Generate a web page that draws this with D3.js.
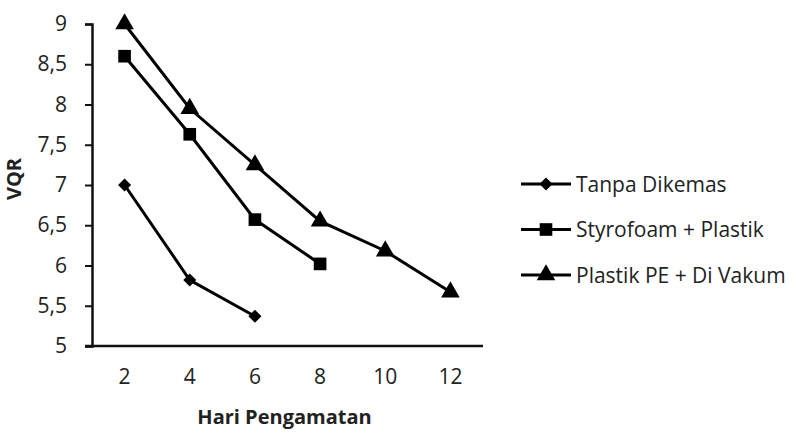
<!DOCTYPE html>
<html>
<head>
<meta charset="utf-8">
<script src="https://cdn.jsdelivr.net/npm/d3@7"></script>
<style>
  body { margin: 0; background: #fff; }
  text { font-family: "Open Sans", sans-serif; fill: #222; }
</style>
</head>
<body>
<svg id="chart"></svg>
<script>
// Dades
var days = ["2", "4", "6", "8", "10", "12"];
var yTicks = [5, 5.5, 6, 6.5, 7, 7.5, 8, 8.5, 9];
var tanpaDikemas = [7.0, 5.82, 5.37];
var styrofoamPlastik = [8.6, 7.63, 6.57, 6.02];
var plastikPeVakum = [9.0, 7.95, 7.25, 6.55, 6.18, 5.67];
var seriesNames = ["Tanpa Dikemas", "Styrofoam + Plastik", "Plastik PE + Di Vakum"];
// el rombe és un quadrat girat 45 graus
var symbols = [d3.symbolSquare, d3.symbolSquare, d3.symbolTriangle];
var symbolSizes = [85, 160, 150];
var symbolRotate = [45, 0, 0];

var width = 796, height = 438;
var margin = { left: 92, right: 313, top: 24, bottom: 92 };

var svg = d3.select("#chart")
  .attr("width", width)
  .attr("height", height);

var x = d3.scaleBand()
  .domain(days)
  .range([margin.left, width - margin.right]);

var y = d3.scaleLinear()
  .domain([5, 9])
  .range([height - margin.bottom, margin.top]);

// Eix Y
var yAxis = svg.append("g")
  .attr("transform", "translate(" + margin.left + ",0)")
  .call(d3.axisLeft(y).tickValues(yTicks).tickSize(7).tickPadding(18)
    .tickFormat(function(d) { return String(d).replace(".", ","); }));
yAxis.select(".domain").attr("stroke", "#111").attr("stroke-width", 2.5);
yAxis.selectAll(".tick line").attr("stroke", "#111").attr("stroke-width", 2);
yAxis.selectAll("text").attr("font-size", 21).attr("font-family", "Open Sans").attr("fill", "#222");

// Eix X
var xAxis = svg.append("g")
  .attr("transform", "translate(0," + (height - margin.bottom) + ")")
  .call(d3.axisBottom(x).tickSize(0).tickPadding(23).tickSizeOuter(0));
xAxis.select(".domain").attr("stroke", "#111").attr("stroke-width", 2.5)
  .attr("d", "M" + (margin.left - 7) + ",0H" + (width - margin.right));
xAxis.selectAll("text").attr("font-size", 21).attr("font-family", "Open Sans").attr("fill", "#222");

// Títols dels eixos
svg.append("text")
  .attr("x", (margin.left + width - margin.right) / 2 - 3)
  .attr("y", 424)
  .attr("text-anchor", "middle")
  .attr("font-size", 20)
  .attr("font-weight", "bold")
  .text("Hari Pengamatan");

svg.append("text")
  .attr("transform", "translate(21,179) rotate(-90)")
  .attr("text-anchor", "middle")
  .attr("font-size", 20)
  .attr("font-weight", "bold")
  .text("VQR");

// Línies
var allSeries = [tanpaDikemas, styrofoamPlastik, plastikPeVakum];
var line = d3.line()
  .x(function(d, i) { return x(days[i]) + x.bandwidth() / 2; })
  .y(function(d) { return y(d); });

allSeries.forEach(function(values, s) {
  var g = svg.append("g");
  g.append("path")
    .datum(values)
    .attr("d", line)
    .attr("fill", "none")
    .attr("stroke", "#000")
    .attr("stroke-width", 3);
  g.selectAll("path.marker")
    .data(values)
    .enter().append("path")
    .attr("class", "marker")
    .attr("d", d3.symbol().type(symbols[s]).size(symbolSizes[s]))
    .attr("transform", function(d, i) {
      return "translate(" + (x(days[i]) + x.bandwidth() / 2) + "," + y(d) + ") rotate(" + symbolRotate[s] + ")";
    })
    .attr("fill", "#000");
});

// Llegenda
var legend = svg.append("g");
seriesNames.forEach(function(name, s) {
  var ly = 184 + s * 45.5;
  legend.append("line")
    .attr("x1", 521).attr("x2", 571)
    .attr("y1", ly).attr("y2", ly)
    .attr("stroke", "#000").attr("stroke-width", 3);
  legend.append("path")
    .attr("d", d3.symbol().type(symbols[s]).size(symbolSizes[s]))
    .attr("transform", "translate(546," + ly + ") rotate(" + symbolRotate[s] + ")")
    .attr("fill", "#000");
  legend.append("text")
    .attr("x", 576)
    .attr("y", ly + 7.5)
    .attr("font-size", 21)
    .text(name);
});
</script>
</body>
</html>
